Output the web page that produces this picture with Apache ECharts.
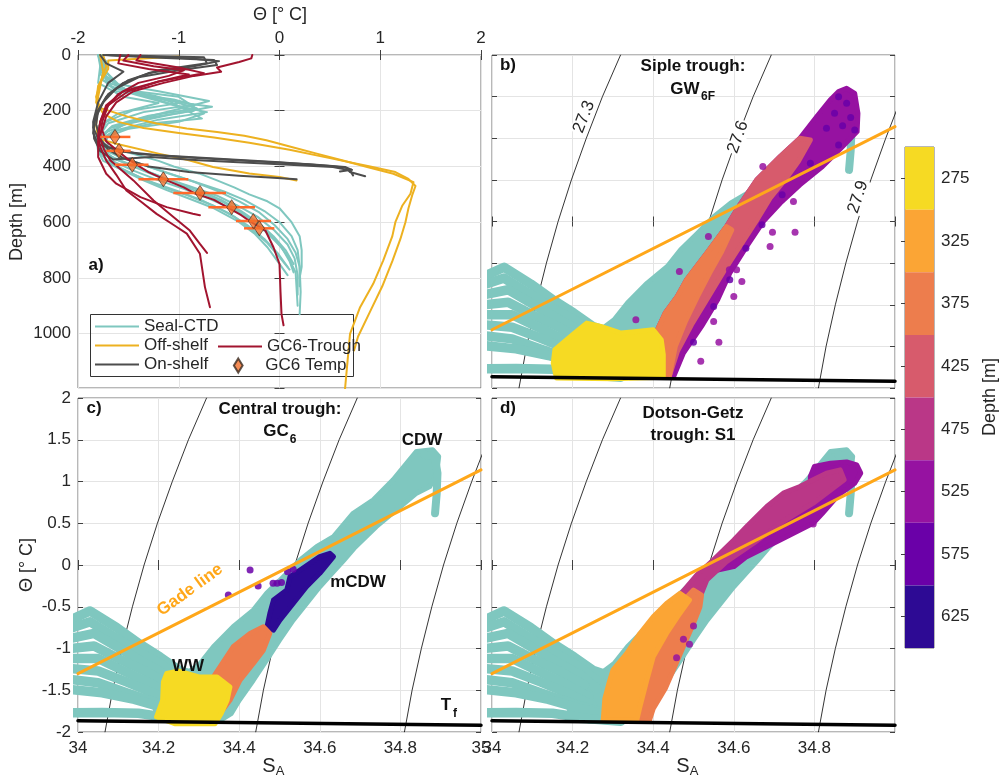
<!DOCTYPE html>
<html><head><meta charset="utf-8">
<script src="https://cdn.jsdelivr.net/npm/echarts@6/dist/echarts.min.js"></script>
<style>html,body{margin:0;padding:0;background:#fff}#c{width:1000px;height:778px}</style>
</head><body><div id="c"></div>
<script>
// ================= DATA =================
// Panel a: profiles as [theta, depth]
const sealProfiles = [
 [[-1.78,0],[-1.74,40],[-1.76,90],[-1.4,140],[-0.9,175],[-0.67,186],[-1.1,215],[-1.55,250],[-1.72,290],[-1.7,330],[-1.5,350],[-1.2,380],[-1.05,400],[-0.8,425],[-0.62,450],[-0.45,475],[-0.3,500],[-0.12,525],[0.0,550],[0.12,600],[0.2,650],[0.22,700],[0.22,760],[0.2,800]],
 [[-1.8,0],[-1.72,60],[-1.6,120],[-1.1,165],[-0.77,228],[-1.25,245],[-1.65,275],[-1.76,310],[-1.72,345],[-1.55,370],[-1.3,400],[-1.05,430],[-0.8,460],[-0.55,490],[-0.35,520],[-0.15,560],[0.0,600],[0.12,650],[0.18,700],[0.2,760],[0.21,850],[0.2,930]],
 [[-1.77,0],[-1.78,70],[-1.5,130],[-0.85,200],[-1.3,225],[-1.68,262],[-1.78,305],[-1.75,345],[-1.62,375],[-1.4,405],[-1.15,440],[-0.9,470],[-0.62,505],[-0.42,540],[-0.22,580],[-0.05,630],[0.08,680],[0.15,730],[0.18,790],[0.18,860]],
 [[-1.8,0],[-1.76,50],[-1.7,110],[-1.3,150],[-0.95,170],[-1.45,198],[-1.72,240],[-1.8,290],[-1.78,340],[-1.66,380],[-1.45,415],[-1.2,450],[-0.95,480],[-0.7,515],[-0.48,550],[-0.28,590],[-0.12,640],[0.02,690],[0.1,740],[0.14,780]],
 [[-1.76,0],[-1.72,80],[-1.45,140],[-1.0,185],[-0.72,205],[-1.2,232],[-1.6,268],[-1.76,310],[-1.78,350],[-1.7,385],[-1.5,420],[-1.28,455],[-1.0,490],[-0.75,525],[-0.52,565],[-0.32,610],[-0.15,660],[-0.02,710],[0.08,760]],
 [[-1.8,0],[-1.78,40],[-1.8,100],[-1.55,150],[-1.2,172],[-1.6,210],[-1.8,255],[-1.82,300],[-1.8,345],[-1.75,380],[-1.55,415],[-1.35,450],[-1.12,485],[-0.9,515],[-0.65,550],[-0.42,595],[-0.25,640],[-0.12,690],[-0.02,740],[0.08,790]],
 [[-1.78,0],[-1.7,30],[-1.75,90],[-1.62,130],[-1.05,160],[-0.85,178],[-1.35,205],[-1.7,245],[-1.78,285],[-1.74,330],[-1.6,365],[-1.35,395],[-1.1,425],[-0.85,455],[-0.6,490],[-0.4,525],[-0.2,565],[-0.05,610],[0.08,660],[0.16,710],[0.2,760],[0.2,830]],
 [[-1.79,0],[-1.77,60],[-1.65,120],[-1.25,145],[-0.82,192],[-1.3,218],[-1.66,255],[-1.78,295],[-1.76,340],[-1.64,372],[-1.45,400],[-1.25,430],[-1.0,465],[-0.78,495],[-0.55,530],[-0.35,570],[-0.18,615],[-0.04,665],[0.08,720],[0.16,780],[0.18,900]],
 [[-1.78,0],[-1.75,50],[-1.6,105],[-1.2,130],[-0.7,165],[-0.9,185],[-1.4,230],[-1.74,280],[-1.78,320],[-1.7,360],[-1.5,390],[-1.3,420],[-1.05,455],[-0.8,485],[-0.58,520],[-0.38,560],[-0.2,605],[-0.06,650],[0.06,700],[0.14,750]],
 [[-1.79,0],[-1.74,70],[-1.55,125],[-1.0,150],[-0.75,210],[-1.0,240],[-1.5,265],[-1.76,300],[-1.8,340],[-1.72,375],[-1.58,405],[-1.38,440],[-1.15,475],[-0.9,505],[-0.66,540],[-0.45,580],[-0.28,625],[-0.12,675],[0.0,725],[0.1,770]]
];
const offShelfProfiles = [
 [[-1.75,0],[-1.72,40],[-1.78,100],[-1.82,150],[-1.78,190],[-1.65,205],[-1.5,222],[-1.22,246],[-0.92,264],[-0.62,276],[-0.35,290],[-0.13,306],[0.12,330],[0.37,354],[0.62,378],[0.87,402],[1.13,426],[1.33,456],[1.3,498],[1.22,540],[1.15,600],[1.12,650],[1.03,737],[0.93,821],[0.8,905],[0.7,1001],[0.67,1120],[0.65,1200]],
 [[-1.0,5],[-1.7,20],[-1.7,50],[-1.8,110],[-1.82,170],[-1.75,210],[-1.6,240],[-1.35,262],[-1.0,280],[-0.65,296],[-0.3,315],[0.1,340],[0.5,370],[0.9,400],[1.15,420],[1.28,445],[1.35,470],[1.32,500],[1.28,550],[1.25,600],[1.2,660],[1.12,740],[1.02,830],[0.9,920],[0.78,1010],[0.74,1060]],
 [[-1.78,0],[-1.75,60],[-1.8,150],[-1.82,250],[-1.8,300],[-1.6,320],[-1.2,354],[-0.9,378],[-0.66,402],[-0.3,425],[0.0,438],[0.17,450]]
];
const onShelfProfiles = [
 [[-1.75,0],[-1.3,8],[-0.65,18],[-0.62,36],[-1.0,55],[-1.4,80],[-1.62,120],[-1.75,170],[-1.83,230],[-1.85,280],[-1.8,320],[-1.6,345],[-1.2,360],[-0.6,372],[0.0,385],[0.5,398],[0.66,405],[0.7,420],[0.85,435]],
 [[-1.7,0],[-0.9,12],[-0.6,22],[-0.85,40],[-1.3,65],[-1.55,100],[-1.72,150],[-1.82,210],[-1.85,260],[-1.8,300],[-1.7,330],[-1.4,355],[-0.9,368],[-0.3,380],[0.3,392],[0.65,402],[0.72,412],[0.6,418]],
 [[-1.78,0],[-1.72,30],[-1.55,60],[-1.7,100],[-1.8,170],[-1.85,240],[-1.84,300],[-1.78,345],[-1.65,375],[-1.28,366],[-0.8,378],[-0.46,384],[0.0,392],[0.53,402],[0.7,414],[0.73,432]],
 [[-1.72,0],[-0.75,8],[-0.72,30],[-1.2,55],[-1.5,90],[-1.7,140],[-1.8,200],[-1.82,250],[-1.78,300],[-1.7,340],[-1.55,370],[-1.3,400],[-0.9,420],[-0.4,433],[-0.1,440],[0.17,446]]
];
const troughProfiles = [
 [[-0.27,0],[-0.28,12],[-0.4,25],[-0.62,45],[-0.58,60],[-0.85,75],[-1.15,100],[-1.45,130],[-1.62,170],[-1.72,220],[-1.76,270],[-1.72,310],[-1.62,340],[-1.5,375],[-1.3,420],[-1.12,450],[-0.95,475],[-0.85,495],[-0.65,520],[-0.52,546],[-0.38,575],[-0.28,600],[-0.14,630],[-0.06,690],[0.0,750],[0.01,850],[0.02,930],[0.04,970]],
 [[-1.5,0],[-1.55,20],[-1.25,40],[-0.95,55],[-1.1,75],[-1.4,100],[-1.6,140],[-1.72,190],[-1.78,240],[-1.8,290],[-1.78,330],[-1.72,378],[-1.62,430],[-1.52,486],[-1.38,525],[-1.22,570],[-1.05,610],[-0.92,641],[-0.79,713],[-0.74,833],[-0.69,905]],
 [[-1.58,0],[-1.6,30],[-1.3,50],[-0.9,70],[-1.2,95],[-1.55,130],[-1.72,180],[-1.78,240],[-1.8,300],[-1.8,366],[-1.72,426],[-1.62,462],[-1.38,510],[-1.12,546],[-0.86,570],[-0.79,575]],
 [[-1.38,0],[-1.42,20],[-1.0,45],[-0.75,65],[-1.2,95],[-1.5,130],[-1.7,180],[-1.76,240],[-1.78,300],[-1.74,340],[-1.68,378],[-1.45,450],[-1.25,522],[-1.05,582],[-0.89,630],[-0.79,678],[-0.72,710]]
];
const gc6Depth = [294, 344, 394, 446, 495, 546, 596, 622];
const gc6Temp  = [-1.633, -1.593, -1.461, -1.153, -0.789, -0.475, -0.26, -0.2];
const gc6Lo    = [-1.78, -1.72, -1.633, -1.40, -1.054, -0.706, -0.432, -0.352];
const gc6Hi    = [-1.48, -1.477, -1.30, -0.905, -0.531, -0.243, -0.084, -0.051];

// T-S panels: [S_A, theta]
const sigma273 = [[34.067,-2],[34.086,-1.5],[34.109,-1],[34.135,-0.5],[34.164,0],[34.197,0.5],[34.234,1],[34.274,1.5],[34.319,2]];
const sigma276 = [[34.441,-2],[34.460,-1.5],[34.483,-1],[34.509,-0.5],[34.538,0],[34.571,0.5],[34.608,1],[34.648,1.5],[34.693,2]];
const sigma279 = [[34.810,-2],[34.829,-1.5],[34.852,-1],[34.878,-0.5],[34.907,0],[34.940,0.5],[34.977,1],[35.017,1.5],[35.062,2]];
const gadeLine = [[34.0,-1.30],[35.0,1.14]];
const freezeLine = [[34.0,-1.865],[35.0,-1.92]];

const sealFan = [
 [[33.98,-0.66],[34.03,-0.55],[34.096,-0.75],[34.154,-0.95],[34.203,-1.1],[34.25,-1.26],[34.3,-1.34]],
 [[33.98,-0.76],[34.03,-0.68],[34.09,-0.86],[34.15,-1.04],[34.21,-1.2],[34.26,-1.38]],
 [[33.98,-0.88],[34.04,-0.82],[34.1,-0.99],[34.16,-1.16],[34.22,-1.32],[34.26,-1.48]],
 [[33.98,-1.0],[34.04,-0.97],[34.1,-1.12],[34.17,-1.28],[34.23,-1.44]],
 [[33.98,-1.12],[34.05,-1.12],[34.11,-1.26],[34.18,-1.42],[34.24,-1.58]],
 [[33.98,-1.24],[34.05,-1.27],[34.12,-1.4],[34.19,-1.54],[34.25,-1.68]],
 [[33.98,-1.37],[34.05,-1.41],[34.12,-1.53],[34.2,-1.66],[34.28,-1.78]],
 [[33.98,-1.49],[34.06,-1.53],[34.14,-1.61],[34.22,-1.72],[34.3,-1.82]],
 [[33.98,-1.77],[34.06,-1.765],[34.15,-1.775],[34.24,-1.84],[34.32,-1.87]]
];
const sealBand = [[34.20,-1.86],[34.30,-1.88],[34.36,-1.84],[34.38,-1.78],[34.40,-1.62],[34.435,-1.38],[34.468,-1.14],[34.50,-0.9],[34.534,-0.66],[34.567,-0.46],[34.60,-0.26],[34.634,-0.08],[34.66,0.06],[34.685,0.2],[34.74,0.46],[34.80,0.7],[34.84,0.86],[34.873,0.94],[34.89,1.1],[34.895,1.3],[34.88,1.38],[34.84,1.36],[34.816,1.22],[34.782,1.02],[34.733,0.78],[34.683,0.62],[34.634,0.34],[34.592,0.22],[34.551,0.06],[34.51,-0.14],[34.468,-0.34],[34.435,-0.54],[34.385,-0.74],[34.336,-0.98],[34.303,-1.18],[34.27,-1.3],[34.23,-1.3],[34.2,-1.45],[34.19,-1.7]];
const sealHook = [[34.86,1.32],[34.885,1.3],[34.892,1.1],[34.89,0.85],[34.886,0.62]];

// Panel b (Siple trough) depth classes
const bDepth525 = [[34.42,-1.86],[34.40,-1.6],[34.405,-1.36],[34.43,-1.1],[34.46,-0.9],[34.483,-0.7],[34.533,-0.38],[34.582,-0.06],[34.615,0.2],[34.657,0.5],[34.715,0.78],[34.764,1.0],[34.806,1.26],[34.839,1.46],[34.86,1.56],[34.88,1.6],[34.9,1.54],[34.908,1.3],[34.906,1.08],[34.87,0.9],[34.82,0.66],[34.764,0.44],[34.715,0.22],[34.673,0.0],[34.632,-0.3],[34.59,-0.62],[34.56,-0.94],[34.52,-1.26],[34.475,-1.58],[34.45,-1.87]];
const bDepth425 = [[34.40,-1.5],[34.405,-1.36],[34.43,-1.1],[34.46,-0.9],[34.483,-0.7],[34.533,-0.38],[34.582,-0.06],[34.615,0.2],[34.657,0.5],[34.715,0.78],[34.764,1.0],[34.79,0.98],[34.76,0.72],[34.73,0.52],[34.69,0.28],[34.655,0.0],[34.615,-0.3],[34.575,-0.6],[34.535,-0.92],[34.495,-1.24],[34.46,-1.56],[34.44,-1.86],[34.42,-1.86]];
const bDepth375 = [[34.40,-1.6],[34.405,-1.36],[34.43,-1.1],[34.46,-0.9],[34.483,-0.7],[34.533,-0.38],[34.582,-0.06],[34.595,-0.1],[34.57,-0.36],[34.54,-0.62],[34.51,-0.9],[34.48,-1.2],[34.455,-1.5],[34.44,-1.86],[34.42,-1.86]];
const bDepth275 = [[34.156,-1.54],[34.2,-1.36],[34.235,-1.22],[34.27,-1.26],[34.32,-1.34],[34.36,-1.32],[34.4,-1.3],[34.42,-1.42],[34.425,-1.6],[34.425,-1.87],[34.3,-1.89],[34.16,-1.88],[34.152,-1.7]];
const bDots525 = [[34.672,0.66],[34.748,0.24],[34.696,-0.13],[34.69,-0.3],[34.752,-0.13],[34.563,-1.45],[34.518,-1.68],[34.589,-0.58],[34.607,-0.58],[34.357,-1.18],[34.465,-0.6],[34.537,-0.18],[34.6,-0.9],[34.62,-0.72],[34.55,-1.2]];
const bDots575 = [[34.86,1.5],[34.88,1.42],[34.85,1.3],[34.89,1.25],[34.87,1.15],[34.9,1.1],[34.83,1.12],[34.86,0.92],[34.79,0.7],[34.72,0.32],[34.67,-0.04],[34.63,-0.32],[34.59,-0.7],[34.55,-1.02],[34.5,-1.45]];

// Panel c (Central trough GC6)
const cDepth625 = [[34.468,-0.76],[34.476,-0.58],[34.485,-0.42],[34.518,-0.3],[34.526,-0.14],[34.551,-0.06],[34.6,0.1],[34.625,0.14],[34.634,0.1],[34.6,-0.1],[34.567,-0.26],[34.534,-0.46],[34.501,-0.66],[34.485,-0.78]];
const cDepth375 = [[34.336,-1.34],[34.385,-0.98],[34.427,-0.82],[34.46,-0.74],[34.476,-0.82],[34.46,-1.02],[34.435,-1.18],[34.402,-1.38],[34.377,-1.62],[34.352,-1.78],[34.35,-1.5]];
const cDepth275 = [[34.22,-1.3],[34.25,-1.27],[34.3,-1.34],[34.345,-1.34],[34.377,-1.46],[34.37,-1.62],[34.355,-1.78],[34.34,-1.9],[34.24,-1.9],[34.195,-1.82],[34.21,-1.62],[34.212,-1.4]];
const cDots575 = [[34.427,-0.06],[34.447,-0.25],[34.484,-0.22],[34.494,-0.22],[34.505,-0.21],[34.534,-0.05],[34.373,-0.36],[34.52,-0.08]];

// Panel d (Dotson-Getz trough S1)
const dDepth525 = [[34.56,-0.06],[34.62,0.14],[34.70,0.4],[34.76,0.62],[34.79,0.86],[34.79,1.06],[34.8,1.18],[34.84,1.22],[34.88,1.235],[34.905,1.2],[34.915,1.1],[34.9,0.98],[34.86,0.84],[34.82,0.62],[34.797,0.5],[34.715,0.3],[34.632,0.1],[34.6,-0.02]];
const dDepth475 = [[34.466,-0.36],[34.508,-0.12],[34.549,0.06],[34.6,0.3],[34.632,0.46],[34.682,0.7],[34.723,0.86],[34.764,0.94],[34.797,1.02],[34.83,1.1],[34.864,1.14],[34.874,1.02],[34.797,0.74],[34.715,0.5],[34.649,0.26],[34.582,0.04],[34.533,-0.18],[34.5,-0.58],[34.483,-0.82]];
const dDepth375 = [[34.36,-1.87],[34.355,-1.6],[34.37,-1.3],[34.39,-1.06],[34.42,-0.82],[34.45,-0.6],[34.48,-0.4],[34.5,-0.3],[34.52,-0.36],[34.516,-0.5],[34.5,-0.7],[34.48,-0.92],[34.455,-1.2],[34.43,-1.48],[34.4,-1.72],[34.39,-1.87]];
const dDepth325 = [[34.276,-1.86],[34.28,-1.6],[34.29,-1.42],[34.3,-1.26],[34.334,-1.06],[34.367,-0.82],[34.4,-0.62],[34.433,-0.46],[34.466,-0.34],[34.49,-0.42],[34.466,-0.58],[34.433,-0.82],[34.4,-1.1],[34.384,-1.38],[34.367,-1.7],[34.359,-1.86]];
const dDots525 = [[34.458,-1.11],[34.475,-0.89],[34.5,-0.73],[34.797,0.49],[34.49,-0.95]];

// Colorbar
const depthBins = [[250,300],[300,350],[350,400],[400,450],[450,500],[500,550],[550,600],[600,650]];
const depthTicks = [275,325,375,425,475,525,575,625];

// Axis ticks
const thetaTicks = [-2,-1,0,1,2];
const depthAxisTicks = [0,200,400,600,800,1000];
const saTicks = [34,34.2,34.4,34.6,34.8,35];

// ================= STYLE =================
const FONT = 'Liberation Sans, Arial, Helvetica, sans-serif';
const TXT = '#262626';
const SEAL = '#7fc7bf';
const OFF = '#EDB120';
const ON = '#4d4d4d';
const TROUGH = '#A2142F';
const GADE = '#FFA719';
const ERRC = '#FF6A2B';
const depthColors = ['#F6DA23','#FBA535','#ED7D4D','#D75B6C','#BA3787','#9612A1','#6A00A8','#2D0A94'];
const DIAMOND = 'path://M5,0 L10,8 L5,16 L0,8 Z';
const LEG_LINE = 'path://M0,0 L44,0 L44,2.2 L0,2.2 Z';
const LEG_DIAMOND = 'path://M0,0 M44,16 M22,0 L27,8 L22,16 L17,8 Z';

const grids = [
 {left:78, top:55, width:403, height:333},
 {left:492, top:55, width:403, height:333},
 {left:78, top:398, width:403, height:334},
 {left:492, top:398, width:403, height:334},
 {left:905, top:147, width:29, height:501}
].map(g => Object.assign({show:true, borderColor:'#707070', borderWidth:1, backgroundColor:'#fff', containLabel:false}, g));

function tickStyle(){ return {show:true, inside:true, length:5, lineStyle:{color:'#404040', width:1}}; }
function mainAxis(o){
  return Object.assign({type:'value', axisLine:{show:false}, axisTick:tickStyle(),
    splitLine:{show:true, lineStyle:{color:'#e4e4e4', width:1}},
    axisLabel:{show:true, color:TXT, fontSize:17, fontFamily:FONT, margin:8}}, o);
}
function mirrorAxis(o){
  return Object.assign({type:'value', axisLine:{show:false}, axisTick:tickStyle(),
    splitLine:{show:false}, axisLabel:{show:false}}, o);
}
const thetaRange = {min:thetaTicks[0], max:thetaTicks[thetaTicks.length-1], interval:1};
const saRange = {min:saTicks[0], max:saTicks[saTicks.length-1], interval:0.2};
const tRange = {min:-2, max:2, interval:0.5};
const dRange = {min:0, max:1195, interval:200, inverse:true};

const xAxes = [
 mainAxis(Object.assign({gridIndex:0, position:'top'}, thetaRange)),
 mirrorAxis(Object.assign({gridIndex:0, position:'bottom'}, thetaRange)),
 mainAxis(Object.assign({gridIndex:1, position:'bottom', axisLabel:{show:false}}, saRange)),
 mirrorAxis(Object.assign({gridIndex:1, position:'top'}, saRange)),
 mainAxis(Object.assign({gridIndex:2, position:'bottom'}, saRange)),
 mirrorAxis(Object.assign({gridIndex:2, position:'top'}, saRange)),
 mainAxis(Object.assign({gridIndex:3, position:'bottom', axisLabel:{show:true, color:TXT, fontSize:17, fontFamily:FONT, margin:8, formatter:v => (v >= 34.999 ? '' : String(Math.round(v*10)/10))}}, saRange)),
 mirrorAxis(Object.assign({gridIndex:3, position:'top'}, saRange)),
 {type:'value', gridIndex:4, min:0, max:1, show:false}
];
const yAxes = [
 mainAxis(Object.assign({gridIndex:0, position:'left', axisLabel:{show:true, color:TXT, fontSize:17, fontFamily:FONT, margin:7, formatter:v => (depthAxisTicks.indexOf(Math.round(v)) >= 0 ? String(Math.round(v)) : '')}}, dRange)),
 mirrorAxis(Object.assign({gridIndex:0, position:'right'}, dRange)),
 mainAxis(Object.assign({gridIndex:1, position:'left', axisLabel:{show:false}}, tRange)),
 mirrorAxis(Object.assign({gridIndex:1, position:'right'}, tRange)),
 mainAxis(Object.assign({gridIndex:2, position:'left', axisLabel:{show:true, color:TXT, fontSize:17, fontFamily:FONT, margin:7}}, tRange)),
 mirrorAxis(Object.assign({gridIndex:2, position:'right'}, tRange)),
 mainAxis(Object.assign({gridIndex:3, position:'left', axisLabel:{show:false}}, tRange)),
 mirrorAxis(Object.assign({gridIndex:3, position:'right'}, tRange)),
 {type:'value', gridIndex:4, position:'right', inverse:true, min:250, max:650,
  axisLine:{show:false}, splitLine:{show:false},
  axisTick:{show:true, inside:true, length:4, lineStyle:{color:'#404040'}, customValues:depthTicks},
  axisLabel:{show:true, color:TXT, fontSize:17, fontFamily:FONT, margin:7, customValues:depthTicks}}
];

// ================= SERIES BUILDERS =================
function lineS(name, data, color, width, xi, yi, z){
  const s = {type:'line', data:data, xAxisIndex:xi, yAxisIndex:yi, symbol:'none', showSymbol:false,
    lineStyle:{color:color, width:width, cap:'round', join:'round'}, itemStyle:{color:color},
    silent:true, animation:false, clip:true, z:z};
  if (name) s.name = name;
  return s;
}
function polyS(pts, color, xi, yi, sw, z){
  return {type:'custom', data:pts, xAxisIndex:xi, yAxisIndex:yi, silent:true, animation:false, clip:true, z:z,
    renderItem:function(params, api){
      if (params.dataIndex !== 0) return null;
      const points = pts.map(p => api.coord(p));
      return {type:'polygon', shape:{points:points}, style:{fill:color, stroke:color, lineWidth:sw, lineJoin:'round'}};
    }};
}
function dotsS(pts, color, xi, yi, z){
  return {type:'scatter', data:pts, xAxisIndex:xi, yAxisIndex:yi, symbol:'circle', symbolSize:7,
    itemStyle:{color:color, opacity:0.85}, silent:true, animation:false, clip:true, z:z};
}
function tsPanel(xi, yi, layers, dots){
  const s = [];
  [sigma273, sigma276, sigma279].forEach(c => s.push(lineS(null, c, '#000', 0.8, xi, yi, 1)));
  sealFan.forEach(f => s.push(lineS(null, f, SEAL, 9.5, xi, yi, 2)));
  s.push(polyS(sealBand, SEAL, xi, yi, 5, 2));
  s.push(lineS(null, sealHook, SEAL, 8, xi, yi, 2));
  layers.forEach((l, i) => s.push(polyS(l[0], depthColors[l[1]], xi, yi, 5, 3 + i * 0.01)));
  dots.forEach(d => s.push(dotsS(d[0], depthColors[d[1]], xi, yi, 4)));
  s.push(lineS(null, gadeLine, GADE, 3, xi, yi, 5));
  s.push(lineS(null, freezeLine, '#000', 3.5, xi, yi, 6));
  return s;
}

let series = [];
// Panel a
sealProfiles.forEach(p => series.push(lineS('Seal-CTD', p, SEAL, 2, 0, 0, 2)));
offShelfProfiles.forEach(p => series.push(lineS('Off-shelf', p, OFF, 2, 0, 0, 3)));
onShelfProfiles.forEach(p => series.push(lineS('On-shelf', p, ON, 2, 0, 0, 3)));
troughProfiles.forEach(p => series.push(lineS('GC6-Trough', p, TROUGH, 2, 0, 0, 4)));
series.push({type:'custom', xAxisIndex:0, yAxisIndex:0, silent:true, animation:false, z:5,
  data: gc6Depth.map((d,i) => [gc6Lo[i], d, gc6Hi[i]]),
  renderItem:function(params, api){
    const a = api.coord([api.value(0), api.value(1)]);
    const b = api.coord([api.value(2), api.value(1)]);
    return {type:'line', shape:{x1:a[0], y1:a[1], x2:b[0], y2:b[1]}, style:{stroke:ERRC, lineWidth:2.5}};
  }});
series.push({type:'scatter', name:'GC6 Temp', xAxisIndex:0, yAxisIndex:0, symbol:DIAMOND, symbolSize:[10,15],
  data: gc6Temp.map((t,i) => [t, gc6Depth[i]]), itemStyle:{color:'#F36F2A', borderColor:'#3a2a20', borderWidth:0.8},
  silent:true, animation:false, z:6});
// Panel b
series = series.concat(tsPanel(2, 2,
  [[bDepth525,5],[bDepth425,3],[bDepth375,2],[bDepth275,0]],
  [[bDots525,5],[bDots575,6]]));
// Panel c
series = series.concat(tsPanel(4, 4,
  [[cDepth625,7],[cDepth375,2],[cDepth275,0]],
  [[cDots575,6]]));
// Panel d
series = series.concat(tsPanel(6, 6,
  [[dDepth525,5],[dDepth475,4],[dDepth375,2],[dDepth325,1]],
  [[dDots525,5]]));
// Colorbar
series.push({type:'custom', xAxisIndex:8, yAxisIndex:8, silent:true, animation:false,
  data: depthBins.map((b,i) => [0, b[0], b[1], i]),
  renderItem:function(params, api){
    const a = api.coord([0, api.value(1)]);
    const b = api.coord([1, api.value(2)]);
    return {type:'rect', shape:{x:a[0], y:a[1], width:b[0]-a[0], height:b[1]-a[1]}, style:{fill:depthColors[api.value(3)]}};
  }});

// ================= TEXT =================
function txt(text, x, y, o){
  o = o || {};
  return {type:'text', x:x, y:y, rotation:o.rot || 0, z:100, silent:true,
    style:{text:text, fill:o.color || TXT, font:(o.bold ? 'bold ' : '') + (o.size || 17) + 'px ' + FONT,
      align:o.align || 'center', verticalAlign:'middle',
      backgroundColor:o.bg, padding:o.bg ? [0,1] : 0}};
}
const K = '#111';
const graphics = [
  {type:'rect', shape:{x:90.5, y:314.5, width:263, height:62}, z:1, silent:true, style:{fill:'none', stroke:'#333', lineWidth:1}},
  txt('Θ [° C]', 280, 15, {size:18}),
  txt('Depth [m]', 17, 222, {size:18, rot:Math.PI/2}),
  txt('Θ [° C]', 27, 565, {size:18, rot:Math.PI/2}),
  txt('Depth [m]', 990, 397, {size:18, rot:Math.PI/2}),
  txt('S', 269, 766, {size:20}), txt('A', 280, 771, {size:13}),
  txt('S', 683, 766, {size:20}), txt('A', 694, 771, {size:13}),
  txt('a)', 96, 265, {bold:true, color:K}),
  txt('b)', 508, 65, {bold:true, color:K}),
  txt('c)', 94, 408, {bold:true, color:K}),
  txt('d)', 508, 408, {bold:true, color:K}),
  txt('Siple trough:', 693, 66, {bold:true, color:K}),
  txt('GW', 685, 89, {bold:true, color:K}), txt('6F', 708, 97, {bold:true, color:K, size:12}),
  txt('Central trough:', 280, 409, {bold:true, color:K}),
  txt('GC', 276, 431, {bold:true, color:K}), txt('6', 293, 440, {bold:true, color:K, size:12}),
  txt('Dotson-Getz', 693, 413, {bold:true, color:K}),
  txt('trough: S1', 693, 435, {bold:true, color:K}),
  txt('CDW', 422, 440, {bold:true, color:K}),
  txt('mCDW', 358, 582, {bold:true, color:K}),
  txt('WW', 188, 666, {bold:true, color:K}),
  txt('T', 446, 705, {bold:true, color:K}), txt('f', 455, 714, {bold:true, color:K, size:12}),
  txt('Gade line', 190, 590, {bold:true, color:GADE, rot:0.63}),
  txt('27.3', 584, 117, {rot:1.2, bg:'#fff'}),
  txt('27.6', 738, 137, {rot:1.22, bg:'#fff'}),
  txt('27.9', 858, 197, {rot:1.25, bg:'#fff'})
];

const legendText = {color:TXT, fontSize:17, fontFamily:FONT};
const option = {
  animation:false,
  backgroundColor:'#fff',
  textStyle:{fontFamily:FONT},
  grid:grids, xAxis:xAxes, yAxis:yAxes,
  legend:[
    {data:[{name:'Seal-CTD', icon:LEG_LINE},{name:'Off-shelf', icon:LEG_LINE},{name:'On-shelf', icon:LEG_LINE}], orient:'vertical', left:95, top:318, itemWidth:44, itemHeight:14, itemGap:2, selectedMode:false, textStyle:legendText, padding:0},
    {data:[{name:'GC6-Trough', icon:LEG_LINE}], orient:'vertical', left:218, top:338, itemWidth:44, itemHeight:14, selectedMode:false, textStyle:legendText, padding:0},
    {data:[{name:'GC6 Temp', icon:LEG_DIAMOND}], orient:'vertical', left:218, top:357, itemWidth:44, itemHeight:14, selectedMode:false, textStyle:legendText, padding:0}
  ],
  graphic:graphics,
  series:series
};
const chart = echarts.init(document.getElementById('c'), null, {renderer:'canvas'});
chart.setOption(option);
</script>
</body></html>
